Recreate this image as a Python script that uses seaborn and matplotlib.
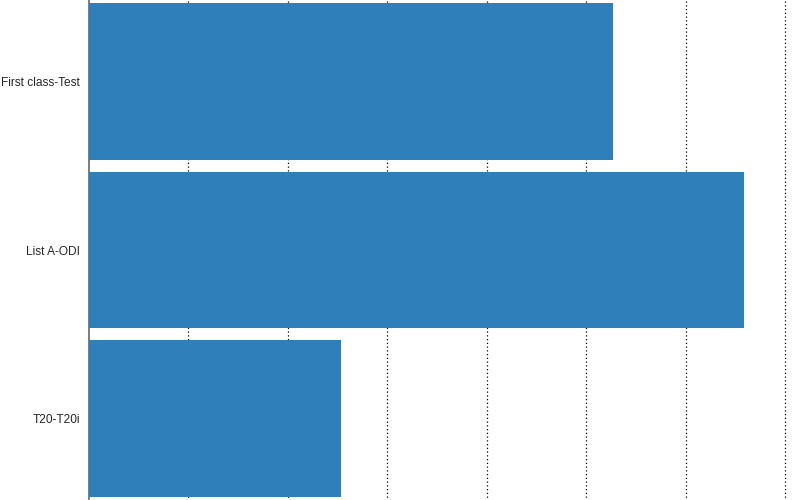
import pandas as pd
import matplotlib
matplotlib.use("Agg")
import matplotlib.pyplot as plt
import seaborn as sns

# values (arbitrary units, grid step = 1000)
formats = ["First class-Test", "List A-ODI", "T20-T20i"]
values = [5270, 6590, 2530]

df = pd.DataFrame({"format": formats, "value": values})

sns.set_style("white")
plt.rcParams["font.family"] = ["Liberation Sans", "DejaVu Sans"]

fig = plt.figure(figsize=(8, 5), dpi=100)
ax = fig.add_axes([89 / 800, -0.006, 1 - 89 / 800, 1.012])

sns.barplot(data=df, y="format", x="value", orient="h", color="#2f7fbb",
            saturation=1, width=0.93, linewidth=0, ax=ax, zorder=3)

ax.set_xlim(0, 7150)
ax.set_xticks([1000, 2000, 3000, 4000, 5000, 6000, 7000])
ax.xaxis.grid(True, linestyle=(0, (1, 2)), color="black", linewidth=0.9, zorder=0)
ax.set_axisbelow(True)
ax.tick_params(axis="x", length=0, labelbottom=False)
ax.tick_params(axis="y", length=0, pad=6.5, labelsize=8.6)
ax.set_xlabel("")
ax.set_ylabel("")
for s in ["top", "right", "bottom"]:
    ax.spines[s].set_visible(False)
ax.spines["left"].set_color("#666666")
ax.spines["left"].set_linewidth(1.2)

fig.savefig("out.png", dpi=100)
